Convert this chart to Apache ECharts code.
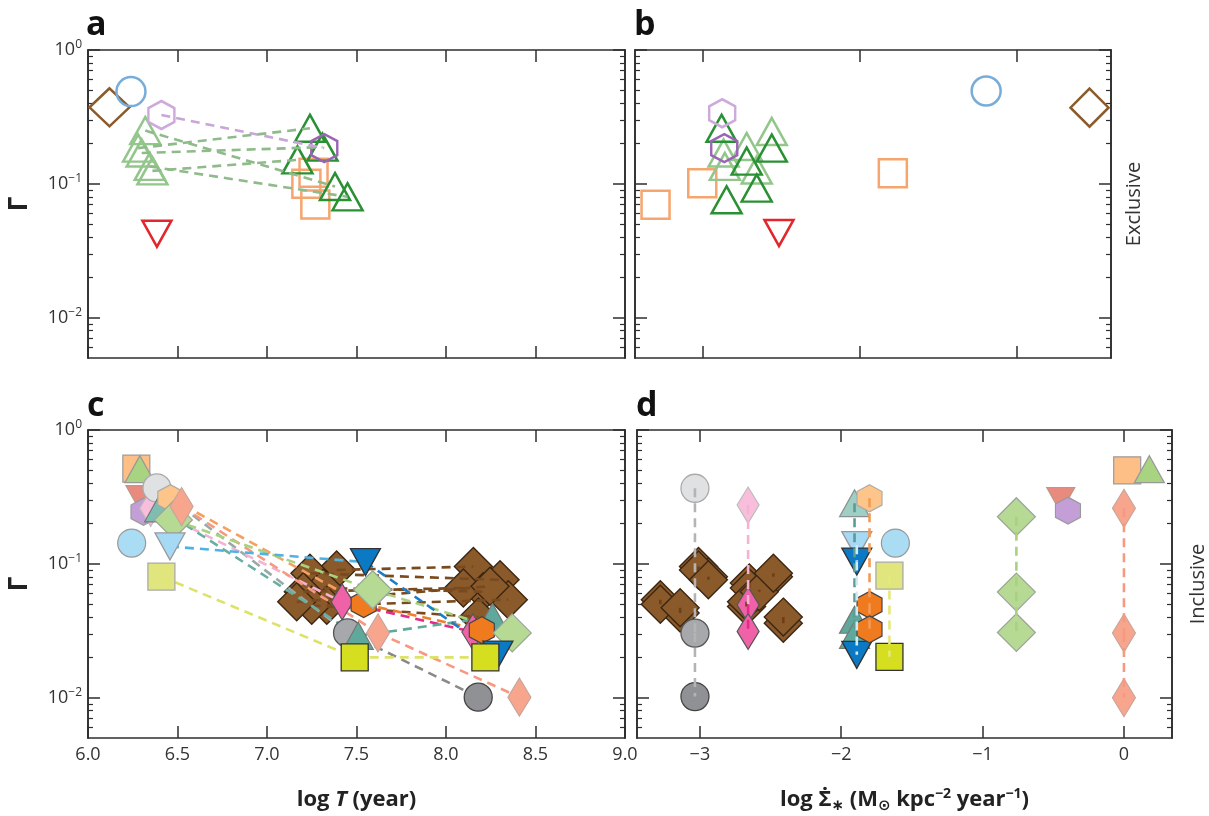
<!DOCTYPE html>
<html><head><meta charset="utf-8">
<script src="https://cdn.jsdelivr.net/npm/echarts@6/dist/echarts.min.js"></script>
<style>html,body{margin:0;padding:0;background:#fff}#chart{width:1209px;height:816px}</style>
</head><body><div id="chart"></div>
<script>
// ================= DATA =================
// Tick labels
const tTicks = [6.0, 6.5, 7.0, 7.5, 8.0, 8.5, 9.0];
const sigmaTicks = [-3, -2, -1, 0];
const gammaMajor = [0.01, 0.1, 1];
const gammaMinor = [0.006, 0.007, 0.008, 0.009, 0.02, 0.03, 0.04, 0.05, 0.06, 0.07, 0.08, 0.09,
                    0.2, 0.3, 0.4, 0.5, 0.6, 0.7, 0.8, 0.9];
const panelLetters = ['a', 'b', 'c', 'd'];

// Panel a: log T (year) vs Gamma, exclusive
const aBrownDiamond = [[6.12, 0.373]];
const aBlueCircle = [[6.24, 0.489]];
const aPurpleHexEarly = [[6.41, 0.327]];
const aPurpleHexLate = [[7.32, 0.185]];
const aGreenTriEarly = [[6.32, 0.250], [6.28, 0.185], [6.30, 0.170], [6.345, 0.135], [6.36, 0.125]];
const aGreenTriLate = [[7.38, 0.0955], [7.24, 0.26], [7.31, 0.188], [7.45, 0.080], [7.17, 0.151]];
const aOrangeSquare = [[7.27, 0.070], [7.22, 0.100], [7.26, 0.121]];
const aRedTriangle = [[6.385, 0.0424]];

// Panel b: log SFR surface density vs Gamma, exclusive
const bOrangeSquare = [[-3.304, 0.0699], [-3.006, 0.101], [-1.791, 0.120]];
const bPurpleHexEarly = [[-2.879, 0.337]];
const bPurpleHexLate = [[-2.866, 0.185]];
const bGreenTriEarly = [[-2.563, 0.246], [-2.723, 0.19], [-2.87, 0.17], [-2.862, 0.135], [-2.659, 0.127]];
const bGreenTriLate = [[-2.883, 0.26], [-2.563, 0.185], [-2.723, 0.148], [-2.659, 0.093], [-2.851, 0.076]];
const bRedTriangle = [[-2.517, 0.0429]];
const bBlueCircle = [[-1.196, 0.494]];
const bBrownDiamond = [[-0.537, 0.371]];

// Panel c: log T (year) vs Gamma, inclusive
const cOrangeSquare = [[6.27, 0.514]];
const cGreenTriangle = [[6.29, 0.51]];
const cGrayCircle = [[6.385, 0.369], [7.45, 0.0305], [8.18, 0.0101]];
const cRedTriangle = [[6.29, 0.31]];
const cPurpleHex = [[6.31, 0.245]];
const cPinkDiamond = [[6.35, 0.26], [7.42, 0.052], [8.15, 0.031]];
const cTealTriangle = [[6.40, 0.26], [7.51, 0.029], [8.26, 0.040]];
const cOrangeHex = [[6.46, 0.31], [7.54, 0.050], [8.20, 0.032]];
const cSalmonDiamond = [[6.523, 0.268], [7.62, 0.0305], [8.41, 0.0101]];
const cGreenDiamond = [[6.477, 0.213], [7.59, 0.064], [8.37, 0.0305]];
const cBlueCircle = [[6.244, 0.143]];
const cBlueTriangle = [[6.458, 0.135], [7.55, 0.103], [8.29, 0.021]];
const cYellowSquare = [[6.41, 0.0804], [7.49, 0.020], [8.22, 0.020]];
const cBrownEarly = [[7.389, 0.090], [7.240, 0.085], [7.315, 0.066], [7.203, 0.062], [7.334, 0.049], [7.250, 0.049], [7.166, 0.052]];
const cBrownLate = [[8.153, 0.0955], [8.302, 0.076], [8.208, 0.062], [8.097, 0.066], [8.348, 0.054], [8.18, 0.040], [8.246, 0.068]];

// Panel d: log SFR surface density vs Gamma, inclusive
const dGrayCircle = [[-3.035, 0.367], [-3.035, 0.0304], [-3.035, 0.0102]];
const dPinkDiamond = [[-2.659, 0.275], [-2.659, 0.0494], [-2.659, 0.0313]];
const dTealTriangle = [[-1.906, 0.284], [-1.906, 0.0382], [-1.906, 0.0295]];
const dBlueTriangle = [[-1.89, 0.138], [-1.89, 0.104], [-1.89, 0.0209]];
const dOrangeHex = [[-1.80, 0.309], [-1.80, 0.0494], [-1.80, 0.0324]];
const dBlueCircle = [[-1.617, 0.143]];
const dYellowSquare = [[-1.659, 0.0818], [-1.659, 0.0202]];
const dGreenDiamond = [[-0.761, 0.225], [-0.761, 0.0615], [-0.761, 0.0307]];
const dRedTriangle = [[-0.447, 0.30]];
const dPurpleHex = [[-0.396, 0.25]];
const dSalmonDiamond = [[0.0, 0.26], [0.0, 0.0304], [0.0, 0.010]];
const dOrangeSquare = [[0.023, 0.50]];
const dGreenTriangle = [[0.18, 0.51]];
const dBrownEarly = [[-3.28, 0.054], [-3.14, 0.043], [-3.01, 0.0955], [-2.94, 0.080], [-2.65, 0.072], [-2.67, 0.048], [-2.58, 0.064], [-2.48, 0.080], [-2.41, 0.036]];
const dBrownLate = [[-3.28, 0.050], [-3.14, 0.047], [-3.01, 0.090], [-2.94, 0.076], [-2.65, 0.066], [-2.67, 0.052], [-2.58, 0.062], [-2.48, 0.085], [-2.41, 0.040]];

// ================= LAYOUT / STYLE =================
const FONT = '"Open Sans", "Noto Sans", "DejaVu Sans", sans-serif';
const INK = '#2e2e2e';
const grids = [
  {left: 88, top: 50, width: 537, height: 308},
  {left: 635, top: 50, width: 476, height: 308},
  {left: 88, top: 430, width: 537, height: 308},
  {left: 637, top: 430, width: 536, height: 308}
];
const xRanges = [[6, 9], [-3.435, -0.40], [6, 9], [-3.445, 0.34]];
const HEX = 'path://M0,-10L8.66,-5L8.66,5L0,10L-8.66,5L-8.66,-5Z';
const CLEAR = 'rgba(0,0,0,0)';
const DASH = [9, 6];

const series = [];
function pick(v, i) { return Array.isArray(v) ? v[i] : v; }
function addScatter(g, data, st, z) {
  series.push({
    type: 'scatter', xAxisIndex: 2 * g, yAxisIndex: 4 * g, z: z, silent: true,
    symbol: st.symbol, symbolSize: st.size, symbolRotate: st.rotate || 0,
    data: data.map((p, i) => ({
      value: p,
      itemStyle: {
        color: st.fill ? pick(st.fill, i) : CLEAR,
        borderColor: pick(st.border, i),
        borderWidth: st.bw,
        opacity: st.opacity == null ? 1 : pick(st.opacity, i)
      }
    }))
  });
}
function addLine(g, p1, p2, color, z, width) {
  series.push({
    type: 'line', xAxisIndex: 2 * g, yAxisIndex: 4 * g, z: z, silent: true,
    symbol: 'none', data: [p1, p2],
    lineStyle: {color: color, width: width || 2.6, type: DASH}
  });
}
function addPath(g, pts, colors, z) {
  for (let i = 0; i + 1 < pts.length; i++) addLine(g, pts[i], pts[i + 1], pick(colors, i), z);
}
function addPairs(g, early, late, color, z) {
  early.forEach((p, i) => addLine(g, p, late[i], color, z));
}

// ---- Panel a (grid 0), open markers
const OPEN = 2.5;
addScatter(0, aBrownDiamond, {symbol: 'diamond', size: [40, 38], border: '#8b5a2b', bw: OPEN}, 3);
addScatter(0, aBlueCircle, {symbol: 'circle', size: 29, border: '#78acd9', bw: OPEN}, 3);
addScatter(0, aOrangeSquare, {symbol: 'rect', size: 28, border: '#f6a56e', bw: OPEN}, 3);
addScatter(0, aGreenTriEarly, {symbol: 'triangle', size: [30, 27], border: '#93c68b', bw: OPEN}, 3);
addScatter(0, aGreenTriLate, {symbol: 'triangle', size: [30, 27], border: '#2a9034', bw: OPEN}, 3);
addScatter(0, aPurpleHexEarly, {symbol: HEX, size: [26, 28], border: '#cda9dc', bw: OPEN}, 3);
addScatter(0, aPurpleHexLate, {symbol: HEX, size: [26, 28], border: '#9b64b5', bw: OPEN}, 3);
addScatter(0, aRedTriangle, {symbol: 'triangle', rotate: 180, size: [29, 26], border: '#e1262c', bw: OPEN}, 3);
addPairs(0, aGreenTriEarly, aGreenTriLate, '#8fba89', 4);
addPairs(0, aPurpleHexEarly, aPurpleHexLate, '#c8a6d8', 4);

// ---- Panel b (grid 1)
addScatter(1, bOrangeSquare, {symbol: 'rect', size: 28, border: '#f6a56e', bw: OPEN}, 3);
addScatter(1, bGreenTriEarly, {symbol: 'triangle', size: [30, 27], border: '#93c68b', bw: OPEN}, 3);
addScatter(1, bGreenTriLate, {symbol: 'triangle', size: [30, 27], border: '#2a9034', bw: OPEN}, 3);
addScatter(1, bPurpleHexEarly, {symbol: HEX, size: [26, 28], border: '#cda9dc', bw: OPEN}, 3);
addScatter(1, bPurpleHexLate, {symbol: HEX, size: [26, 28], border: '#9b64b5', bw: OPEN}, 3);
addScatter(1, bRedTriangle, {symbol: 'triangle', rotate: 180, size: [29, 26], border: '#e1262c', bw: OPEN}, 3);
addScatter(1, bBlueCircle, {symbol: 'circle', size: 29, border: '#78acd9', bw: OPEN}, 3);
addScatter(1, bBrownDiamond, {symbol: 'diamond', size: [38, 38], border: '#8b5a2b', bw: OPEN}, 3);

// ---- Panel c (grid 2), filled markers
const BROWN = {symbol: 'diamond', size: [38, 38], fill: '#8b5a2b', border: '#3b2612', bw: 1.4};
addScatter(2, cBrownEarly, BROWN, 2);
addScatter(2, cBrownLate, BROWN, 2);
addPairs(2, cBrownEarly, cBrownLate, '#7a4a1f', 3);
addPath(2, cGrayCircle, ['#98aaa8', '#8a8a8a'], 3);
addPath(2, cPinkDiamond, ['#f5b3d3', '#e7298a'], 3);
addPath(2, cTealTriangle, ['#6aaea3', '#5fa89c'], 3);
addPath(2, cOrangeHex, ['#f5a062', '#ef7f2a'], 3);
addPath(2, cSalmonDiamond, '#f59a80', 3);
addPath(2, cGreenDiamond, '#a9d17f', 3);
addPath(2, cBlueTriangle, ['#4fb2e3', '#1a7fc6'], 3);
addPath(2, cYellowSquare, '#dde36a', 3);

const S_ORSQ = {symbol: 'rect', size: 27, fill: '#fdbf86', border: '#9b9b9b', bw: 1.2};
const S_GRTRI = {symbol: 'triangle', size: [30, 27], fill: '#a8d380', border: '#999', bw: 1.2};
const S_GRAYC = {symbol: 'circle', size: 28, fill: ['#e0e1e3', '#a6a8ab', '#8f9194'], border: ['#aaa', '#555', '#444'], bw: 1.3};
const S_REDT = {symbol: 'triangle', rotate: 180, size: [28, 25], fill: '#e98a7e', border: '#b98', bw: 1.2};
const S_PHEX = {symbol: HEX, size: [25, 27], fill: '#c49fd7', border: '#999', bw: 1.2};
const S_PINK = {symbol: 'diamond', size: [22, 36], fill: ['#f8bedb', '#ef62a8', '#ef62a8'], border: ['#bbb', '#555', '#555'], bw: 1.2};
const S_TEAL = {symbol: 'triangle', size: [30, 27], fill: ['#7fbdb1', '#5ea99c', '#5ea99c'], border: '#777', bw: 1.2};
const S_OHEX = {symbol: HEX, size: [25, 27], fill: ['#fdc58a', '#f07b1f', '#f07b1f'], border: ['#aaa', '#444', '#444'], bw: 1.2};
const S_SALM = {symbol: 'diamond', size: [23, 38], fill: '#f7a68d', border: '#c8a49a', bw: 1.2};
const S_GDIA = {symbol: 'diamond', size: [38, 38], fill: '#b6d993', border: '#9aa59a', bw: 1.2};
const S_BCIR = {symbol: 'circle', size: 28, fill: '#aadcf4', border: '#999', bw: 1.2};
const S_BTRI = {symbol: 'triangle', rotate: 180, size: [30, 27], fill: ['#a6d9f4', '#0b79c3', '#0b79c3'], border: ['#999', '#333', '#333'], bw: 1.3};
const S_YSQ = {symbol: 'rect', size: 27, fill: ['#e1e57d', '#d6df1f', '#d6df1f'], border: ['#aaa', '#333', '#333'], bw: 1.3};

addScatter(2, cOrangeSquare, S_ORSQ, 4);
addScatter(2, cGreenTriangle, S_GRTRI, 4);
addScatter(2, cRedTriangle, S_REDT, 4);
addScatter(2, cPurpleHex, S_PHEX, 4);
addScatter(2, cPinkDiamond, S_PINK, 4);
addScatter(2, cGrayCircle, S_GRAYC, 4);
addScatter(2, cTealTriangle, S_TEAL, 4);
addScatter(2, cOrangeHex, S_OHEX, 4);
addScatter(2, cGreenDiamond, S_GDIA, 4);
addScatter(2, cSalmonDiamond, S_SALM, 4);
addScatter(2, cBlueCircle, S_BCIR, 4);
addScatter(2, cBlueTriangle, S_BTRI, 4);
addScatter(2, cYellowSquare, S_YSQ, 4);

// ---- Panel d (grid 3)
addScatter(3, dBrownEarly, BROWN, 3);
addScatter(3, dBrownLate, BROWN, 3);
addScatter(3, dGrayCircle, S_GRAYC, 3);
addScatter(3, dPinkDiamond, S_PINK, 3);
addScatter(3, dTealTriangle, Object.assign({}, S_TEAL, {opacity: [0.75, 1, 1]}), 3);
addScatter(3, dBlueTriangle, S_BTRI, 3);
addScatter(3, dOrangeHex, S_OHEX, 3);
addScatter(3, dBlueCircle, S_BCIR, 3);
addScatter(3, dYellowSquare, {symbol: 'rect', size: 27, fill: ['#e1e57d', '#d6df1f'], border: ['#aaa', '#333'], bw: 1.3}, 3);
addScatter(3, dGreenDiamond, S_GDIA, 3);
addScatter(3, dRedTriangle, S_REDT, 3);
addScatter(3, dPurpleHex, S_PHEX, 3);
addScatter(3, dSalmonDiamond, S_SALM, 3);
addScatter(3, dOrangeSquare, S_ORSQ, 3);
addScatter(3, dGreenTriangle, S_GRTRI, 3);
addPairs(3, dBrownEarly, dBrownLate, '#6b3f17', 5);
addPath(3, dGrayCircle, '#b4b4b4', 5);
addPath(3, dPinkDiamond, ['#f5b3d3', '#e7298a'], 5);
addPath(3, dTealTriangle, '#5b9c94', 5);
addPath(3, dBlueTriangle, ['#cfeaf7', '#cfeaf7'], 5);
addPath(3, dOrangeHex, '#f39a55', 5);
addPath(3, dYellowSquare, '#e5e87a', 5);
addPath(3, dGreenDiamond, '#a9d17f', 5);
addPath(3, dSalmonDiamond, '#f59a80', 5);

// ================= AXES =================
const lineSt = {color: INK, width: 1.6};
const tickSt = {color: INK, width: 1.5};
const labelBase = {fontSize: 18, color: '#333', fontFamily: FONT};
function fmtSigma(v) { return v === 0 ? '0' : (v < 0 ? '\u2212' : '') + Math.abs(v); }
function fmtGamma(v) {
  const e = Math.round(Math.log10(v));
  return '{b|10}{s|' + (e < 0 ? '\u2212' + (-e) : String(e)) + '}';
}
const nameRich = {
  t: {fontSize: 22, fontWeight: 'bold', fontFamily: FONT, color: '#222', lineHeight: 26},
  ti: {fontSize: 22, fontWeight: 'bold', fontStyle: 'italic', fontFamily: FONT, color: '#222', lineHeight: 26},
  sup: {fontSize: 14, fontWeight: 'bold', fontFamily: FONT, color: '#222', lineHeight: 14, verticalAlign: 'top'},
  sub: {fontSize: 15, fontWeight: 'bold', fontFamily: FONT, color: '#222', lineHeight: 14, verticalAlign: 'bottom'}
};
const xNames = [null, null, '{t|log }{ti|T}{t| (year)}',
  '{t|log \u03A3\u0307}{sub|\u2217}{t| (M}{sub|\u2299}{t| kpc}{sup|\u22122}{t| year}{sup|\u22121}{t|)}'];

const xAxis = [], yAxis = [];
for (let g = 0; g < 4; g++) {
  const isT = (g % 2 === 0);
  const ticks = isT ? tTicks : sigmaTicks;
  const base = {
    type: 'value', gridIndex: g, min: xRanges[g][0], max: xRanges[g][1],
    splitLine: {show: false},
    axisLine: {show: true, onZero: false, lineStyle: lineSt},
    axisTick: {show: true, inside: true, length: 12, customValues: ticks, lineStyle: tickSt}
  };
  const bottom = Object.assign({}, base, {
    position: 'bottom',
    axisLabel: Object.assign({show: g >= 2, customValues: ticks, margin: 8,
      formatter: isT ? (v => v.toFixed(1)) : fmtSigma}, labelBase)
  });
  if (xNames[g]) {
    Object.assign(bottom, {name: xNames[g], nameLocation: 'middle', nameGap: 49,
      nameTextStyle: {rich: nameRich, fontSize: 22, fontWeight: 'bold', fontFamily: FONT, color: '#222', lineHeight: 26}});
  }
  xAxis.push(bottom);
  xAxis.push(Object.assign({}, base, {position: 'top', axisLabel: {show: false}}));

  ['left', 'right'].forEach(pos => {
    const yb = {
      type: 'log', logBase: 10, gridIndex: g, min: 0.005, max: 1, position: pos,
      splitLine: {show: false},
      axisLine: {show: true, onZero: false, lineStyle: lineSt}
    };
    const major = Object.assign({}, yb, {
      axisTick: {show: true, inside: true, length: 12, customValues: gammaMajor, lineStyle: tickSt},
      axisLabel: {show: pos === 'left' && isT, customValues: gammaMajor, margin: 6, formatter: fmtGamma,
        rich: {b: {fontSize: 18, color: '#333', fontFamily: FONT, lineHeight: 22},
               s: {fontSize: 12, color: '#333', fontFamily: FONT, lineHeight: 12, verticalAlign: 'top'}}}
    });
    if (pos === 'left' && isT) {
      Object.assign(major, {name: '\u0393', nameLocation: 'middle', nameGap: 55, nameRotate: 90,
        nameTextStyle: {fontSize: 26, fontWeight: 'bold', fontFamily: FONT, color: '#222'}});
    }
    if (pos === 'right' && !isT) {
      Object.assign(major, {name: g === 1 ? 'Exclusive' : 'Inclusive', nameLocation: 'middle',
        nameGap: g === 1 ? 13 : 16, nameRotate: 90,
        nameTextStyle: {fontSize: 20, fontFamily: FONT, color: '#333'}});
    }
    const minor = Object.assign({}, yb, {
      axisTick: {show: true, inside: true, length: 5, customValues: gammaMinor, lineStyle: {color: INK, width: 1.2}},
      axisLabel: {show: false}
    });
    yAxis.push(major, minor);
  });
}

// ================= CHART =================
const chart = echarts.init(document.getElementById('chart'), null, {renderer: 'canvas'});
const letterPos = [[86, 8], [634, 8], [87, 389], [636, 389]];
chart.setOption({
  animation: false,
  backgroundColor: '#fff',
  textStyle: {fontFamily: FONT},
  grid: grids.map(g => Object.assign({containLabel: false}, g)),
  xAxis: xAxis,
  yAxis: yAxis,
  graphic: panelLetters.map((t, i) => ({
    type: 'text', left: letterPos[i][0], top: letterPos[i][1], silent: true,
    style: {text: t, fontSize: 34, fontWeight: 'bold', fontFamily: FONT, fill: '#111'}
  })),
  series: series
});
</script></body></html>
